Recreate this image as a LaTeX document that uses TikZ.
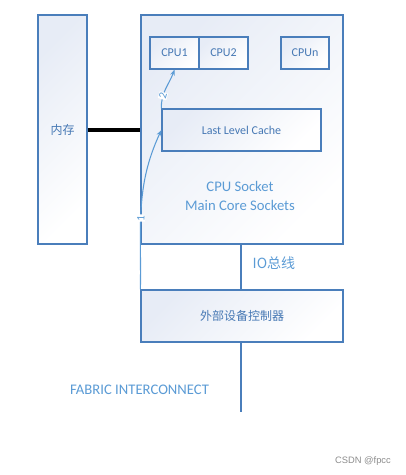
\documentclass[tikz,border=0pt]{standalone}
\usepackage{fontspec}
\setmainfont{Carlito}
\newfontfamily\cjk{Noto Sans CJK SC}
\newfontfamily\wmfont{Liberation Sans}
\usetikzlibrary{arrows.meta}
\definecolor{boxline}{RGB}{74,126,187}
\definecolor{boxtext}{RGB}{70,120,180}
\definecolor{softblue}{RGB}{91,155,213}
\definecolor{boxfill}{RGB}{231,236,246}

\begin{document}
\begin{tikzpicture}[x=0.75pt,y=-0.75pt,
    box/.style={draw=boxline,line width=0.9pt,top color=boxfill,bottom color=white,shading angle=45,inner sep=0pt,text=boxtext,font=\fontsize{9}{11}\selectfont},
    flow/.style={softblue,line width=0.8pt,-{Stealth[length=4.5pt,width=3.5pt]}},
    bus/.style={boxline,line width=0.9pt},
    num/.style={sloped,fill=white,inner sep=0.5pt,text=softblue,font=\fontsize{8.5}{9}\selectfont}]
            \useasboundingbox (0,0) rectangle (406,475);
            \node[box,minimum width=49*0.75pt,minimum height=229*0.75pt] (mem) at (62.5,129.5) {\cjk 内存};
            \node[box,minimum width=202*0.75pt,minimum height=229*0.75pt] (sock) at (242,129.5) {};
            \node[box,minimum width=49*0.75pt,minimum height=32*0.75pt] (cpu1) at (174.5,53) {CPU1};
            \node[box,minimum width=49*0.75pt,minimum height=32*0.75pt] (cpu2) at (223.5,53) {CPU2};
            \node[box,minimum width=48*0.75pt,minimum height=32*0.75pt] (cpun) at (305,53) {CPUn};
            \node[box,minimum width=159*0.75pt,minimum height=42*0.75pt] (llc) at (241.5,130) {Last Level Cache};
            \node[text=softblue,align=center,font=\fontsize{11}{14}\selectfont] (socktxt) at (240,196) {CPU Socket\\Main Core Sockets};
            \node[box,minimum width=202*0.75pt,minimum height=52*0.75pt] (ctrl) at (242,316) {\cjk 外部设备控制器};
            \coordinate (fabric) at (241,412);
            \draw[bus] (sock.south -| fabric) -- (ctrl.north -| fabric);
            \draw[bus] (ctrl.south -| fabric) -- (fabric);
            \node[anchor=west,text=softblue,font=\fontsize{10.5}{12}\selectfont\cjk] (iobus) at (248,263) {IO总线};
            \node[text=softblue,font=\fontsize{11}{12}\selectfont] (fabtxt) at (139.5,390) {FABRIC INTERCONNECT};
            \draw[line width=3pt] (mem.east) -- (sock.west);
            \draw[flow] (ctrl.north west) to[out=89,in=245] node[num,pos=0.43] {1} (llc.west);
            \draw[flow] (llc.north west) to[out=92,in=250] node[num,pos=0.3] {2} (cpu1.south);
            \node[text=black!45,font=\wmfont\fontsize{7}{8}\selectfont] (mark) at (363,461) {CSDN @fpcc};
        \end{tikzpicture}
\end{document}
